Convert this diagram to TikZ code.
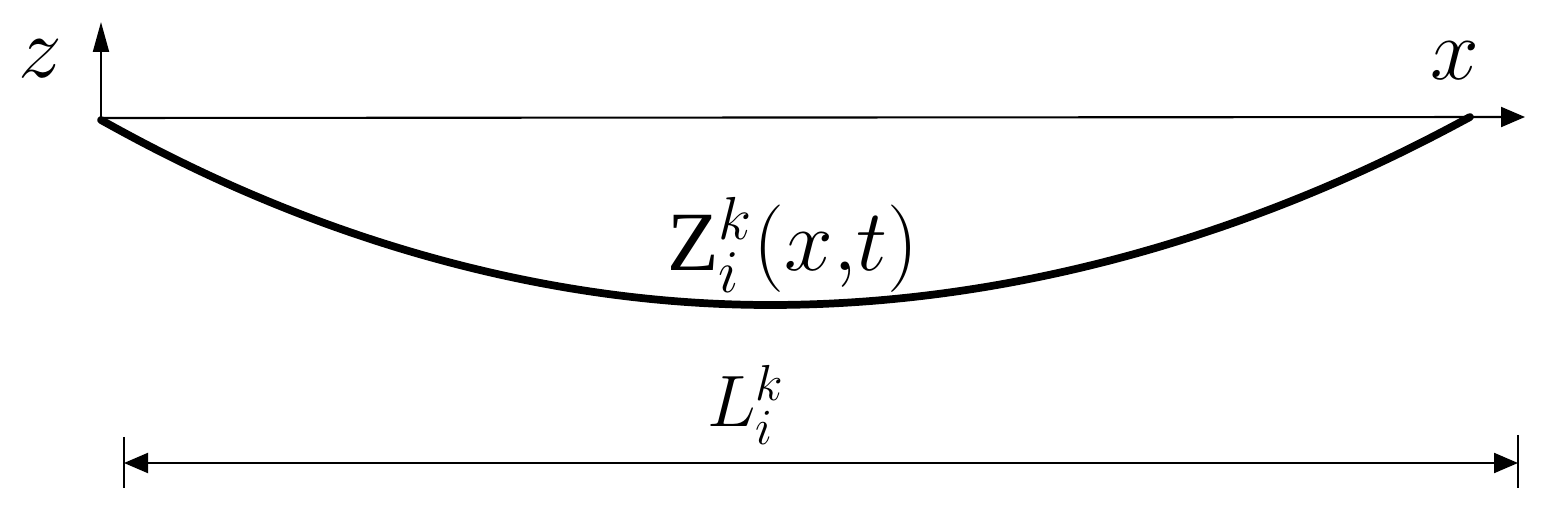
\documentclass[tikz,border=0pt]{standalone}
\usepackage{amsmath}
\usepackage{fontspec}
\setmainfont{Liberation Serif}
\usepackage{tikz}
\usetikzlibrary{arrows.meta}
\tikzset{>={Triangle[length=2.4mm, width=2mm]}}
\tikzset{
	axisline/.style={line width=.6pt},
	beam/.style={line width=2.2pt, line cap=round},
	lbl/.style={inner sep=0pt},
}

\begin{document}
\begin{tikzpicture}
    \useasboundingbox (0, 0) rectangle (15.59, 5.17);
    \coordinate (O) at (1.01, 3.99);
    \coordinate (zT) at (1.01, 4.95);
    \coordinate (xT) at (15.25, 4.00);
    \coordinate (A) at (1.01, 3.97);
    \coordinate (M) at (7.70, 2.12);
    \coordinate (B) at (14.70, 4.00);
    \coordinate (dL) at (1.24, .54);
    \coordinate (dR) at (15.18, .54);
    % axes
    \draw[axisline, -{Triangle[length=3mm, width=1.6mm]}](O)--(zT);
    \draw[axisline, ->](O)--(xT);
    \node[lbl, font=\fontsize{30}{32}\selectfont] (z) at (.40, 4.58){$z$};
    \node[lbl, font=\fontsize{30}{32}\selectfont] (x) at (14.55, 4.56){$x$};
    % deflected beam
    \draw[beam](A) parabola bend (M) (B);
    \node[lbl, font=\fontsize{24}{26}\selectfont] (Z) at (7.93, 2.72)
        {$\text{Z}^{k}_{i}\!\left(x{,}t\right)$};
    % span length
    \draw[axisline](1.24, .80)--(1.24, .29);
    \draw[axisline](15.18, .82)--(15.18, .29);
    \draw[axisline, <->](dL)--(dR);
    \node[lbl, font=\fontsize{21}{23}\selectfont] (L) at (7.46, 1.12)
        {$L^{k}_{i}$};
\end{tikzpicture}
\end{document}
